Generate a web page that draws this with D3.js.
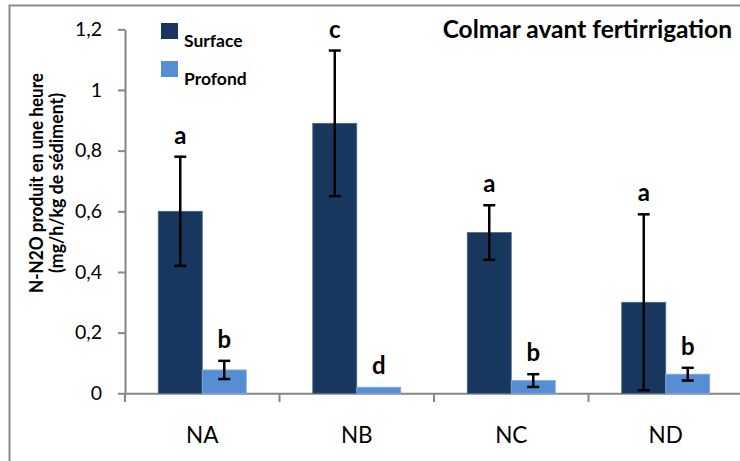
<!DOCTYPE html>
<html><head><meta charset="utf-8">
<script src="https://cdn.jsdelivr.net/npm/d3@7"></script>
<style>
body{margin:0;background:#fff}
svg{display:block}
text{font-family:Lato,"Open Sans",sans-serif;fill:#000}
</style>
</head><body>
<svg id="c" width="740" height="461"></svg>
<script>
const categories = ["NA","NB","NC","ND"];
const seriesNames = ["Surface","Profond"];
const surface = [0.60, 0.89, 0.53, 0.30];
const surfaceErr = [0.18, 0.24, 0.09, 0.29];
const profond = [0.077, 0.02, 0.042, 0.063];
const profondErr = [0.03, 0, 0.021, 0.021];
const surfaceLetters = ["a","c","a","a"];
const profondLetters = ["b","d","b","b"];
const yTicks = [0, 0.2, 0.4, 0.6, 0.8, 1, 1.2];
const colors = ["#17375E", "#558ED5"];
const titleText = "Colmar avant fertirrigation";
const yTitle = ["N-N2O produit en une heure", "(mg/h/kg de sédiment)"];

const svg = d3.select("#c");
const axisColor = "#868686";

// outer frame
svg.append("rect").attr("x",9.5).attr("y",5.5).attr("width",760).attr("height",480)
  .attr("fill","none").attr("stroke","#8c8c8c").attr("stroke-width",2);

const x = d3.scaleBand().domain(categories).range([125, 743]).paddingInner(0).paddingOuter(0);
const xs = d3.scaleBand().domain(seriesNames).range([0, x.bandwidth()]).paddingInner(0).paddingOuter(0.756);
const y = d3.scaleLinear().domain([0, 1.2]).range([393.3, 29.3]);

// y axis
const ya = svg.append("g").attr("transform","translate(125,0)")
  .call(d3.axisLeft(y).tickValues(yTicks).tickSize(7).tickSizeOuter(0).tickPadding(16)
    .tickFormat(d => String(d).replace(".", ",")));
ya.select(".domain").attr("stroke",axisColor).attr("stroke-width",2);
ya.selectAll(".tick line").attr("stroke",axisColor).attr("stroke-width",2);
ya.selectAll(".tick text").attr("font-size",19.5).attr("font-family","Lato,sans-serif").attr("fill","#000");

// x axis
const xa = svg.append("g").attr("transform","translate(0,393.3)")
  .call(d3.axisBottom(x).tickSize(0).tickSizeOuter(0).tickPadding(34));
xa.select(".domain").attr("stroke",axisColor).attr("stroke-width",2);
xa.selectAll(".tick text").attr("font-size",22.5).attr("font-family","Lato,sans-serif").attr("fill","#000");
// category boundary ticks
svg.append("g").selectAll("line").data(categories).join("line")
  .attr("x1", d => x(d)).attr("x2", d => x(d))
  .attr("y1", 393.3).attr("y2", 402)
  .attr("stroke", axisColor).attr("stroke-width", 2);

// data rows
const rows = categories.map((c,i) => ({c, vals:[
  {s:"Surface", v:surface[i], e:surfaceErr[i], l:surfaceLetters[i], col:colors[0]},
  {s:"Profond", v:profond[i], e:profondErr[i], l:profondLetters[i], col:colors[1]}
]}));

const g = svg.append("g");
rows.forEach(r => {
  r.vals.forEach(d => {
    const bx = x(r.c) + xs(d.s);
    const bw = xs.bandwidth();
    g.append("rect").attr("x", bx).attr("y", y(d.v)).attr("width", bw).attr("height", y(0) - y(d.v))
      .attr("fill", d.col).attr("stroke", d.s === "Surface" ? "#4a6788" : "#7fa8de").attr("stroke-width", 0.8);
    const cx = bx + bw/2;
    if (d.e > 0) {
      const top = y(d.v + d.e), bot = y(Math.max(0, d.v - d.e));
      g.append("line").attr("x1",cx).attr("x2",cx).attr("y1",top).attr("y2",bot).attr("stroke","#000").attr("stroke-width",2.5);
      [top, bot].forEach(yy => g.append("line").attr("x1",cx-6).attr("x2",cx+6).attr("y1",yy).attr("y2",yy).attr("stroke","#000").attr("stroke-width",2.5));
    }
    g.append("text").attr("x", cx).attr("y", y(d.v + d.e) - 13).attr("text-anchor","middle")
      .attr("font-size", 24).attr("font-weight","bold").text(d.l);
  });
});

// title
svg.append("text").attr("x", 732).attr("y", 38).attr("text-anchor","end")
  .attr("font-size", 24.5).attr("font-weight","bold").text(titleText);

// legend
seriesNames.forEach((s,i) => {
  svg.append("rect").attr("x",161).attr("y",23 + i*38).attr("width",17).attr("height",16).attr("fill",colors[i]);
  svg.append("text").attr("x",184).attr("y",47 + i*37.5).attr("font-size",17.5).attr("font-weight","bold").text(s);
});

// y title
const yLens = [220, 180];
yTitle.forEach((t,i) => {
  svg.append("text").attr("transform", `translate(${43 + i*20},183) rotate(-90)`).attr("text-anchor","middle")
    .attr("font-size", 19.5).attr("font-weight","bold")
    .attr("textLength", yLens[i]).attr("lengthAdjust","spacingAndGlyphs").text(t);
});
</script>
</body></html>
